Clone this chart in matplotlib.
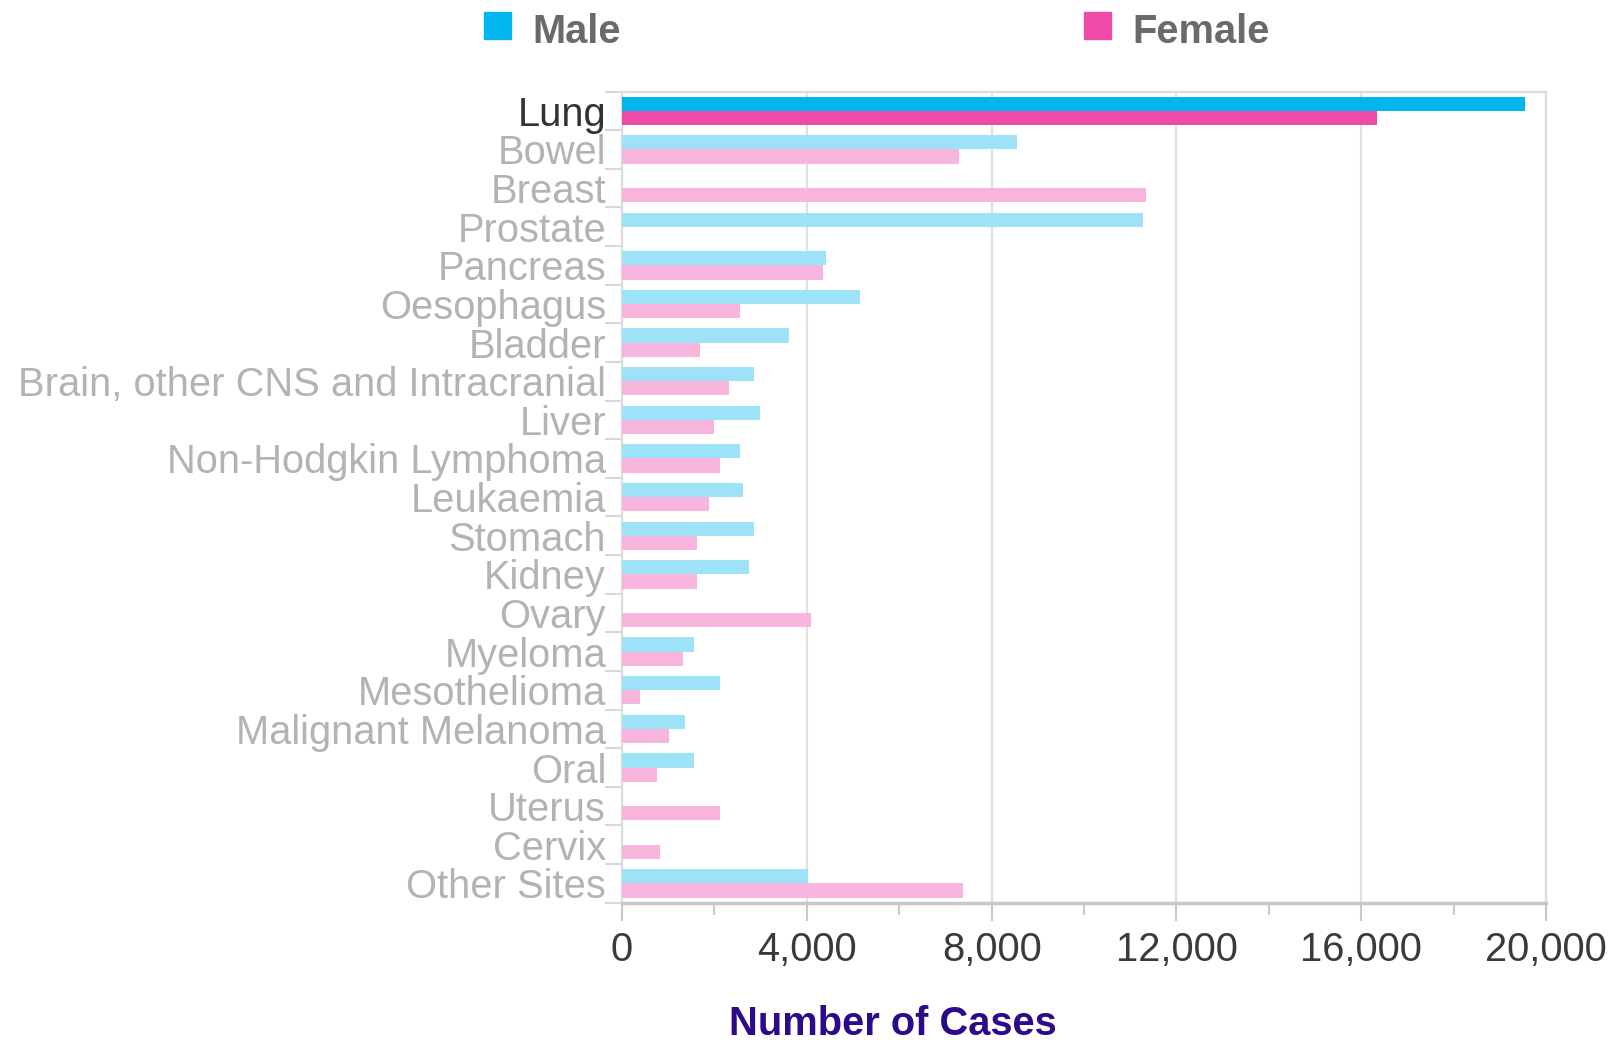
import numpy as np
import matplotlib.pyplot as plt
from matplotlib.patches import Rectangle
from matplotlib.ticker import MultipleLocator, FuncFormatter

plt.rcParams['font.family'] = ['Liberation Sans', 'DejaVu Sans']

sites = ['Lung', 'Bowel', 'Breast', 'Prostate', 'Pancreas', 'Oesophagus',
         'Bladder', 'Brain, other CNS and Intracranial', 'Liver',
         'Non-Hodgkin Lymphoma', 'Leukaemia', 'Stomach', 'Kidney', 'Ovary',
         'Myeloma', 'Mesothelioma', 'Malignant Melanoma', 'Oral', 'Uterus',
         'Cervix', 'Other Sites']
male = [19550, 8550, 0, 11270, 4410, 5150, 3610, 2860, 2990, 2555, 2610,
        2860, 2740, 0, 1565, 2120, 1370, 1565, 0, 0, 4035]
female = [16350, 7300, 11340, 0, 4345, 2555, 1690, 2310, 1990, 2120, 1875,
          1630, 1630, 4090, 1315, 390, 1010, 750, 2120, 820, 7370]
highlight = 'Lung'

male_dark, female_dark = '#00b6ec', '#f04aa8'
male_light, female_light = '#9de2f6', '#f8b5dd'
fs = 28.7

fig = plt.figure(figsize=(16.14, 10.4), dpi=100)
ax = fig.add_axes([0.3854, 0.132, 0.5725, 0.780])

y = np.arange(len(sites))
h = 0.368
mcol = [male_dark if s == highlight else male_light for s in sites]
fcol = [female_dark if s == highlight else female_light for s in sites]
ax.barh(y - h / 2, male, height=h, color=mcol, zorder=3)
ax.barh(y + h / 2, female, height=h, color=fcol, zorder=3)

ax.set_xlim(0, 20000)
ax.set_ylim(len(sites) - 0.5, -0.5)

# category labels at centres, little tick marks at the row boundaries
ax.set_yticks(y)
ax.set_yticklabels(sites)
ax.set_yticks(np.arange(len(sites) + 1) - 0.5, minor=True)
ax.tick_params(axis='y', which='major', length=0, pad=11.5, labelsize=fs)
ax.tick_params(axis='y', which='minor', length=12, width=1.5, color='#d8d8d8')
for lab, s in zip(ax.get_yticklabels(), sites):
    lab.set_color('#333333' if s == highlight else '#b3b3b3')

ax.xaxis.set_major_locator(MultipleLocator(4000))
ax.xaxis.set_minor_locator(MultipleLocator(2000))
ax.xaxis.set_major_formatter(FuncFormatter(lambda v, p: '{:,.0f}'.format(v)))
ax.tick_params(axis='x', which='major', length=13, width=1.5, color='#c8c8c8',
               labelsize=fs, labelcolor='#3a3a3a', pad=7.5)
ax.tick_params(axis='x', which='minor', length=8.5, width=1.5, color='#c8c8c8')

ax.grid(axis='x', which='major', color='#e0e0e0', linewidth=1.6, zorder=0)

for side in ['top', 'right', 'left']:
    ax.spines[side].set_color('#dcdcdc')
    ax.spines[side].set_linewidth(1.6)
ax.spines['bottom'].set_color('#c8c8c8')
ax.spines['bottom'].set_linewidth(2.5)

fig.text(893 / 1614, 1 - 1024 / 1040, 'Number of Cases', ha='center',
         va='center', fontsize=fs, fontweight='bold', color='#2c0a8a')

# legend
for x0, x1, col, name in [(484, 532, male_dark, 'Male'),
                          (1084, 1132, female_dark, 'Female')]:
    fig.add_artist(Rectangle((x0 / 1614, 1 - 39 / 1040), 26.5 / 1614, 27 / 1040,
                             transform=fig.transFigure, color=col))
    fig.text(x1 / 1614, 1 - 32 / 1040, name, ha='left', va='center',
             fontsize=fs, fontweight='bold', color='#6a6a6a')

fig.savefig('out.png', dpi=100)
